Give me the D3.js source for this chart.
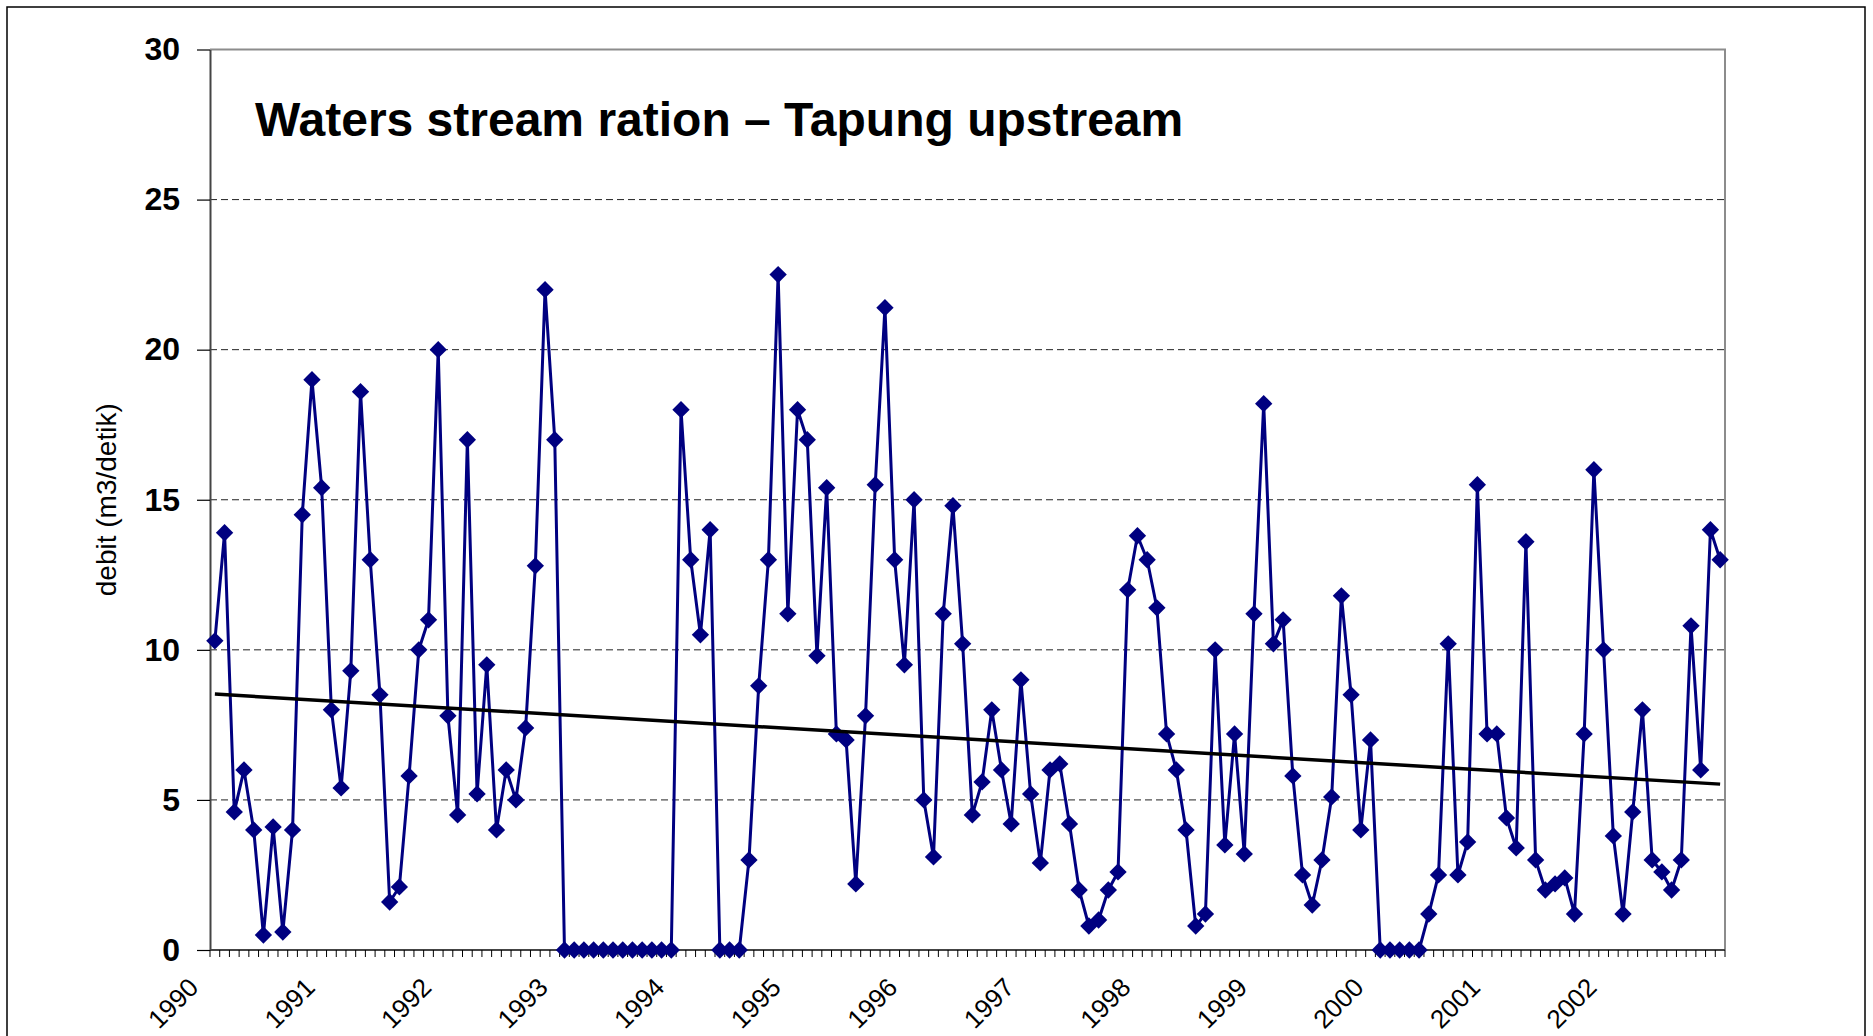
<!DOCTYPE html>
<html>
<head>
<meta charset="utf-8">
<script src="https://cdn.jsdelivr.net/npm/d3@7"></script>
<style>
  html, body { margin: 0; padding: 0; background: #fff; }
  svg { display: block; font-family: Arial, "Liberation Sans", sans-serif; }
</style>
</head>
<body>
<svg id="chart" width="1873" height="1036"></svg>
<script>
// year labels shown on the x axis (one per January)
const years = ['1990', '1991', '1992', '1993', '1994', '1995', '1996',
  '1997', '1998', '1999', '2000', '2001', '2002']
const months = ['Jan', 'Feb', 'Mar', 'Apr', 'May', 'Jun', 'Jul', 'Aug', 'Sep', 'Oct', 'Nov', 'Dec']

// monthly debit (m3/detik), one row per year
const debit = [
  10.3, 13.9, 4.6, 6.0, 4.0, 0.5, 4.1, 0.6, 4.0, 14.5, 19.0, 15.4,
  8.0, 5.4, 9.3, 18.6, 13.0, 8.5, 1.6, 2.1, 5.8, 10.0, 11.0, 20.0,
  7.8, 4.5, 17.0, 5.2, 9.5, 4.0, 6.0, 5.0, 7.4, 12.8, 22.0, 17.0,
  0, 0, 0, 0, 0, 0, 0, 0, 0, 0, 0, 0,
  18.0, 13.0, 10.5, 14.0, 0, 0, 0, 3.0, 8.8, 13.0, 22.5, 11.2,
  18.0, 17.0, 9.8, 15.4, 7.2, 7.0, 2.2, 7.8, 15.5, 21.4, 13.0, 9.5,
  15.0, 5.0, 3.1, 11.2, 14.8, 10.2, 4.5, 5.6, 8.0, 6.0, 4.2, 9.0,
  5.2, 2.9, 6.0, 6.2, 4.2, 2.0, 0.8, 1.0, 2.0, 2.6, 12.0, 13.8,
  13.0, 11.4, 7.2, 6.0, 4.0, 0.8, 1.2, 10.0, 3.5, 7.2, 3.2, 11.2,
  18.2, 10.2, 11.0, 5.8, 2.5, 1.5, 3.0, 5.1, 11.8, 8.5, 4.0, 7.0,
  0, 0, 0, 0, 0, 1.2, 2.5, 10.2, 2.5, 3.6, 15.5, 7.2,
  7.2, 4.4, 3.4, 13.6, 3.0, 2.0, 2.2, 2.4, 1.2, 7.2, 16.0, 10.0,
  3.8, 1.2, 4.6, 8.0, 3.0, 2.6, 2.0, 3.0, 10.8, 6.0, 14.0, 13.0
]

const yTicks = [0, 5, 10, 15, 20, 25, 30]

const title = 'Waters stream ration \u2013 Tapung upstream'
const yTitle = 'debit (m3/detik)'

// categories: one per month
const categories = []
years.forEach((yr) => months.forEach((m) => categories.push(`${m} ${yr}`)))

const plot = { left: 210, top: 49.5, right: 1725, bottom: 950 }

const svg = d3.select('#chart')

// outer chart border
svg.append('rect')
  .attr('x', 7).attr('y', 7)
  .attr('width', 1858).attr('height', 1040)
  .attr('fill', 'none')
  .attr('stroke', '#000')
  .attr('stroke-width', 1.5)

const x = d3.scaleBand().domain(categories).range([plot.left, plot.right])
const y = d3.scaleLinear().domain([0, 30]).range([plot.bottom, plot.top])
const cx = (i) => x(categories[i]) + x.bandwidth() / 2

// dashed gridlines
svg.append('g')
  .selectAll('line')
  .data(yTicks.filter((t) => t > 0 && t < 30))
  .join('line')
  .attr('x1', plot.left).attr('x2', plot.right)
  .attr('y1', (d) => y(d)).attr('y2', (d) => y(d))
  .attr('stroke', '#222')
  .attr('stroke-width', 1)
  .attr('stroke-dasharray', '7,4')

// top and right frame
svg.append('path')
  .attr('d', `M${plot.left},${plot.top} H${plot.right} V${plot.bottom}`)
  .attr('fill', 'none')
  .attr('stroke', '#8c8c8c')
  .attr('stroke-width', 2)

// y axis
const yAxis = svg.append('g')
  .attr('transform', `translate(${plot.left},0)`)
  .call(d3.axisLeft(y).tickValues(yTicks).tickSize(13).tickPadding(17).tickSizeOuter(0))
yAxis.select('.domain').attr('stroke', '#444').attr('stroke-width', 2)
yAxis.selectAll('.tick line').attr('stroke', '#000').attr('stroke-width', 1.2)
yAxis.selectAll('.tick text')
  .attr('font-size', 32)
  .attr('font-weight', 'bold')
  .attr('font-family', 'Arial, "Liberation Sans", sans-serif')
  .attr('fill', '#000')

// x axis: minor ticks on every category boundary
const xg = svg.append('g')
xg.append('line')
  .attr('x1', plot.left).attr('x2', plot.right)
  .attr('y1', plot.bottom).attr('y2', plot.bottom)
  .attr('stroke', '#444').attr('stroke-width', 2)
xg.selectAll('line.tk')
  .data(d3.range(categories.length + 1))
  .join('line')
  .attr('class', 'tk')
  .attr('x1', (i) => plot.left + i * x.step())
  .attr('x2', (i) => plot.left + i * x.step())
  .attr('y1', plot.bottom).attr('y2', plot.bottom + 7)
  .attr('stroke', '#000').attr('stroke-width', 1)

// year labels under each January
xg.selectAll('text')
  .data(years)
  .join('text')
  .attr('transform', (d, k) => `translate(${cx(k * 12) - 15},${plot.bottom + 39}) rotate(-45)`)
  .attr('text-anchor', 'end')
  .attr('font-size', 26)
  .attr('fill', '#000')
  .text((d) => d)

// linear trend (least squares over month index)
const idx = d3.range(debit.length)
const mx = d3.mean(idx)
const my = d3.mean(debit)
const slope = d3.sum(idx, (i) => (i - mx) * (debit[i] - my)) / d3.sum(idx, (i) => (i - mx) ** 2)
const icpt = my - slope * mx
const trend = [0, debit.length - 1].map((i) => [cx(i), y(icpt + slope * i)])

// data line
svg.append('path')
  .datum(debit)
  .attr('fill', 'none')
  .attr('stroke', '#000080')
  .attr('stroke-width', 3)
  .attr('stroke-linejoin', 'round')
  .attr('d', d3.line().x((d, i) => cx(i)).y((d) => y(d)))

// markers (square turned 45 degrees)
svg.append('g')
  .selectAll('path')
  .data(debit)
  .join('path')
  .attr('transform', (d, i) => `translate(${cx(i)},${y(d)}) rotate(45)`)
  .attr('d', d3.symbol(d3.symbolSquare, 150))
  .attr('fill', '#000080')

svg.append('path')
  .attr('d', d3.line()(trend))
  .attr('stroke', '#000')
  .attr('stroke-width', 3.5)

// title inside plot
svg.append('text')
  .attr('x', 255).attr('y', 136)
  .attr('font-size', 48)
  .attr('font-weight', 'bold')
  .attr('fill', '#000')
  .text(title)

// y axis title
svg.append('text')
  .attr('transform', `translate(116,${(plot.top + plot.bottom) / 2}) rotate(-90)`)
  .attr('text-anchor', 'middle')
  .attr('font-size', 28)
  .attr('fill', '#000')
  .text(yTitle)
</script>
</body>
</html>
